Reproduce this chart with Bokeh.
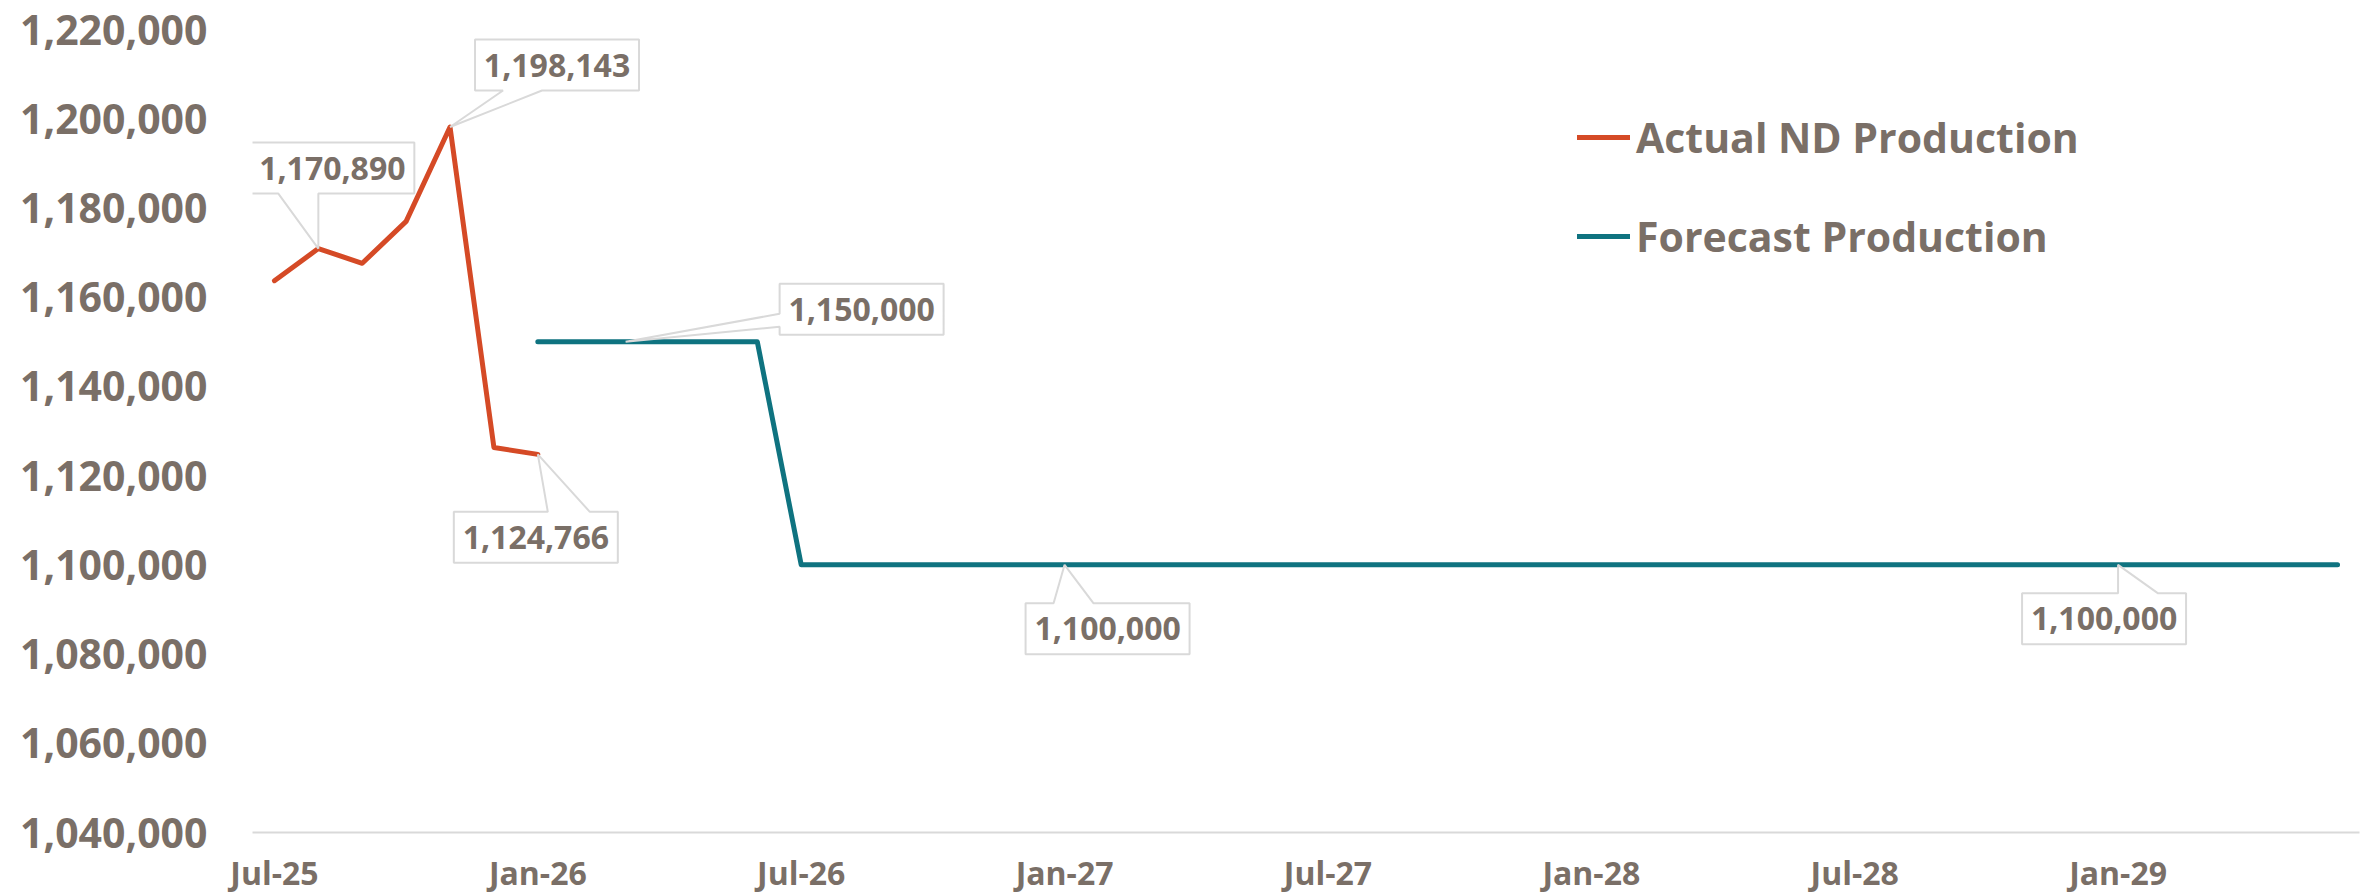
from bokeh.plotting import figure
from bokeh.models import (FixedTicker, NumeralTickFormatter, Range1d, Legend, LegendItem)
from bokeh.core.properties import value
from bokeh.embed import file_html
from bokeh.resources import INLINE

# ---------------- data ----------------
months = ["Jul-25", "Aug-25", "Sep-25", "Oct-25", "Nov-25", "Dec-25",
          "Jan-26", "Feb-26", "Mar-26", "Apr-26", "May-26", "Jun-26",
          "Jul-26", "Aug-26", "Sep-26", "Oct-26", "Nov-26", "Dec-26",
          "Jan-27", "Feb-27", "Mar-27", "Apr-27", "May-27", "Jun-27",
          "Jul-27", "Aug-27", "Sep-27", "Oct-27", "Nov-27", "Dec-27",
          "Jan-28", "Feb-28", "Mar-28", "Apr-28", "May-28", "Jun-28",
          "Jul-28", "Aug-28", "Sep-28", "Oct-28", "Nov-28", "Dec-28",
          "Jan-29", "Feb-29", "Mar-29", "Apr-29", "May-29", "Jun-29"]

actual_months = ["Jul-25", "Aug-25", "Sep-25", "Oct-25", "Nov-25", "Dec-25", "Jan-26"]
actual_values = [1163700, 1170890, 1167600, 1177000, 1198143, 1126300, 1124766]

forecast_months = months[6:]
forecast_values = [1150000, 1150000, 1150000, 1150000, 1150000, 1150000,
                   1100000, 1100000, 1100000, 1100000, 1100000, 1100000,
                   1100000, 1100000, 1100000, 1100000, 1100000, 1100000,
                   1100000, 1100000, 1100000, 1100000, 1100000, 1100000,
                   1100000, 1100000, 1100000, 1100000, 1100000, 1100000,
                   1100000, 1100000, 1100000, 1100000, 1100000, 1100000,
                   1100000, 1100000, 1100000, 1100000, 1100000, 1100000]

tick_labels = ["Jul-25", "Jan-26", "Jul-26", "Jan-27", "Jul-27", "Jan-28", "Jul-28", "Jan-29"]
y_ticks = [1040000, 1060000, 1080000, 1100000, 1120000, 1140000, 1160000, 1180000, 1200000, 1220000]

series_names = ["Actual ND Production", "Forecast Production"]

# labelled points: (series, month)
labelled = [("actual", "Aug-25"), ("actual", "Nov-25"), ("actual", "Jan-26"),
            ("forecast", "Mar-26"), ("forecast", "Jan-27"), ("forecast", "Jan-29")]

# ---------------- styles / layout ----------------
TEXT = "#7A6F67"
ORANGE = "#D54A26"
TEAL = "#0F7380"
GRID = "#D9D9D9"
FONT = "Open Sans"

W, H = 2372, 896
BL, BR, BT, BB = 252, 13, 29, 64
FW, FH = W - BL - BR, H - BT - BB
X0, X1 = -0.5, len(months) - 0.5
Y0, Y1 = 1040000, 1220000
PX_X = FW / (X1 - X0)
PX_Y = FH / (Y1 - Y0)

# callout layout: box-centre offset (px, right / up), pointer side, pointer base (px from centre)
callout_layout = [
    (14, 80.5, "bottom", -54, -14),
    (107, 62, "bottom", -54, -15),
    (-2, -83, "top", 12, 54),
    (236, 32.5, "left", -17.5, -4.5),
    (43, -64, "top", -54, -14),
    (-14, -54, "top", 14, 54),
]
HW, HH = 82, 25.5

p = figure(width=W, height=H, output_backend="svg", toolbar_location=None,
           x_range=Range1d(X0, X1), y_range=Range1d(Y0, Y1),
           min_border_left=BL, min_border_right=BR, min_border_top=BT, min_border_bottom=BB,
           outline_line_color=None, background_fill_color="white", border_fill_color="white")
p.grid.grid_line_color = None

ax = [months.index(m) for m in actual_months]
fx = [months.index(m) for m in forecast_months]

r1 = p.line(ax, actual_values, line_color=ORANGE, line_width=5, line_cap="round", line_join="round")
r2 = p.line(fx, forecast_values, line_color=TEAL, line_width=5, line_cap="round", line_join="round")

# callouts
xs_all, ys_all, tx, ty, tt = [], [], [], [], []
for (series, m), (dx, dy, side, b1, b2) in zip(labelled, callout_layout):
    if series == "actual":
        v = actual_values[actual_months.index(m)]
    else:
        v = forecast_values[forecast_months.index(m)]
    xi = months.index(m)
    tip = (-dx, -dy)
    pts = [(-HW, HH)]
    if side == "top":
        pts += [(b1, HH), tip, (b2, HH)]
    pts += [(HW, HH), (HW, -HH)]
    if side == "bottom":
        pts += [(b2, -HH), tip, (b1, -HH)]
    pts.append((-HW, -HH))
    if side == "left":
        pts += [(-HW, b1), tip, (-HW, b2)]
    xs_all.append([xi + (dx + px) / PX_X for px, py in pts])
    ys_all.append([v + (dy + py) / PX_Y for px, py in pts])
    tx.append(xi + dx / PX_X)
    ty.append(v + dy / PX_Y)
    tt.append(f"{v:,}")

p.patches(xs_all, ys_all, fill_color="white", line_color=GRID, line_width=2)
p.text(tx, ty, text=tt, text_align="center", text_baseline="middle",
       text_font=value(FONT), text_font_style="bold", text_font_size="32px", text_color=TEXT)

# axes
p.xaxis.ticker = FixedTicker(ticks=[months.index(t) for t in tick_labels])
p.xaxis.major_label_overrides = {months.index(t): t for t in tick_labels}
p.xaxis.axis_line_color = GRID
p.xaxis.axis_line_width = 2
p.xaxis.major_tick_line_color = None
p.xaxis.minor_tick_line_color = None
p.xaxis.major_tick_out = 0
p.xaxis.major_tick_in = 0
p.xaxis.major_label_standoff = 18
p.xaxis.major_label_text_font = FONT
p.xaxis.major_label_text_font_style = "bold"
p.xaxis.major_label_text_font_size = "32px"
p.xaxis.major_label_text_color = TEXT

p.yaxis.ticker = FixedTicker(ticks=y_ticks)
p.yaxis.formatter = NumeralTickFormatter(format="0,0")
p.yaxis.axis_line_color = None
p.yaxis.major_tick_line_color = None
p.yaxis.minor_tick_line_color = None
p.yaxis.major_tick_out = 0
p.yaxis.major_tick_in = 0
p.yaxis.major_label_standoff = 45
p.yaxis.major_label_text_font = FONT
p.yaxis.major_label_text_font_style = "bold"
p.yaxis.major_label_text_font_size = "41px"
p.yaxis.major_label_text_color = TEXT

legend = Legend(items=[LegendItem(label=series_names[0], renderers=[r1]),
                       LegendItem(label=series_names[1], renderers=[r2])],
                location=(1325, 568), orientation="vertical",
                border_line_color=None, background_fill_alpha=0,
                padding=0, margin=0, spacing=43,
                glyph_width=53, glyph_height=50, label_height=50, label_standoff=6,
                label_text_font=FONT, label_text_font_style="bold",
                label_text_font_size="41px", label_text_color=TEXT)
p.add_layout(legend)

open("out.html", "w").write(file_html(p, INLINE))
